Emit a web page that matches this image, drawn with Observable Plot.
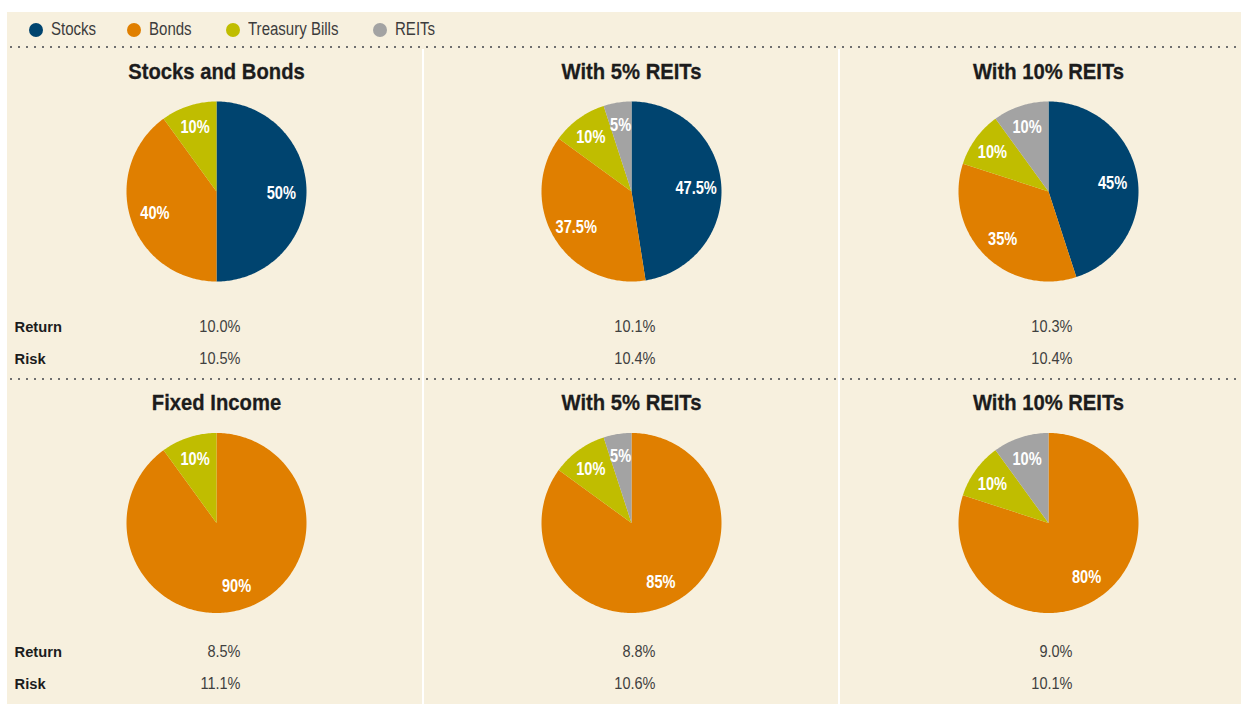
<!DOCTYPE html>
<html><head><meta charset="utf-8">
<script src="https://cdn.jsdelivr.net/npm/d3@7"></script>
<script src="https://cdn.jsdelivr.net/npm/@observablehq/plot@0.6"></script>
<style>
html,body{margin:0;padding:0;background:#fff;overflow:hidden;width:1241px;height:704px;}
#wrap{position:absolute;left:7px;top:12px;width:1234px;height:692px;background:#f7f0de;overflow:hidden;
  font-family:"Liberation Sans",Arial,sans-serif;}
.item{position:absolute;top:0;height:34px;}
.sw{position:absolute;left:-7px;top:10.5px;width:14px;height:14px;border-radius:50%;}
.lt{position:absolute;left:15px;top:6px;font-size:18px;line-height:22px;color:#3c3c3c;white-space:nowrap;
  transform:scaleX(0.835);transform-origin:left center;}
.dots{position:absolute;left:0;width:1234px;height:2px;
  background-image:radial-gradient(circle, #6f6f6f 0.8px, rgba(0,0,0,0) 1.3px);
  background-size:8px 2px;background-repeat:repeat-x;}
.vsep{position:absolute;width:2px;background:#fff;top:37px;bottom:0;}
.panel{position:absolute;}
</style></head><body>
<div id="wrap"></div>
<script>
// ---- data ----
const assets = ["Stocks", "Bonds", "Treasury Bills", "REITs"];
const assetColors = ["#00446f", "#e07f00", "#c0bd00", "#a3a3a3"];
const panelTitles = ["Stocks and Bonds", "With 5% REITs", "With 10% REITs", "Fixed Income", "With 5% REITs", "With 10% REITs"];
const stocksPct = [50, 47.5, 45, 0, 0, 0];
const bondsPct = [40, 37.5, 35, 90, 85, 80];
const billsPct = [10, 10, 10, 10, 10, 10];
const reitsPct = [0, 5, 10, 0, 5, 10];
const returnPct = [10.0, 10.1, 10.3, 8.5, 8.8, 9.0];
const riskPct = [10.5, 10.4, 10.4, 11.1, 10.6, 10.1];
const rowLabels = ["Return", "Risk"];

// ---- layout ----
const R = 90;
const legendX = [29, 127, 226, 373];
const colLeft = [0, 417, 833], colWidth = [415, 414, 401], colCx = [209, 207, 208];
const rowTop = [36, 368], rowHeight = [330, 324];
const rowCy = [143, 142.5], rowTitleBase = [30, 29], rowReturnBase = [283, 276], rowRiskBase = [315, 308];
const FONT = '"Liberation Sans",Arial,sans-serif';
// horizontal compression per text size (to mimic a condensed face)
const SIZE_LABEL = 17.5, SIZE_TITLE = 22, SIZE_VALUE = 17, SIZE_ROW = 15.5;
const squeeze = {[SIZE_LABEL]: 0.835, [SIZE_TITLE]: 0.92, [SIZE_VALUE]: 0.855, [SIZE_ROW]: 0.95};

const wrap = document.getElementById("wrap");

// legend
assets.forEach((a, i) => {
  const it = document.createElement("div"); it.className = "item"; it.style.left = legendX[i] + "px";
  const sw = document.createElement("span"); sw.className = "sw"; sw.style.background = assetColors[i];
  const tx = document.createElement("span"); tx.className = "lt"; tx.textContent = a;
  it.append(sw, tx); wrap.append(it);
});

// dotted rules
[34, 366].forEach(t => { const d = document.createElement("div"); d.className = "dots"; d.style.top = t + "px"; wrap.append(d); });

const series = [stocksPct, bondsPct, billsPct, reitsPct];

function condense(svg) {
  svg.querySelectorAll("g[aria-label='text']").forEach(g => {
    const fs = parseFloat(g.getAttribute("font-size"));
    const s = squeeze[fs] || 1;
    g.querySelectorAll("text").forEach(t => {
      const tx = parseFloat(t.getAttribute("x")) || 0;
      const prev = t.getAttribute("transform") || "";
      t.setAttribute("transform", `${prev} translate(${tx},0) scale(${s},1) translate(${-tx},0)`);
    });
  });
}

for (let p = 0; p < 6; p++) {
  const r = Math.floor(p / 3), c = p % 3;
  const cx = colCx[c], cy = rowCy[r];
  const slices = assets.map((a, k) => ({asset: a, value: series[k][p]})).filter(d => d.value > 0);
  const arcs = d3.pie().sort(null).value(d => d.value)(slices);
  const pts = [];
  arcs.forEach(arc => {
    const a = arc.data.asset;
    pts.push({asset: a, x: 0, y: 0});
    const n = Math.max(2, Math.ceil((arc.endAngle - arc.startAngle) / (Math.PI / 180)));
    for (let k = 0; k <= n; k++) {
      const t = arc.startAngle + (arc.endAngle - arc.startAngle) * k / n;
      pts.push({asset: a, x: Math.sin(t), y: Math.cos(t)});
    }
  });
  const labels = arcs.map(arc => {
    const m = (arc.startAngle + arc.endAngle) / 2;
    const lr = arc.data.value <= 10 ? 0.77 : 0.72;
    return {x: lr * Math.sin(m), y: lr * Math.cos(m), text: `${arc.data.value}%`};
  });
  const marks = [
    Plot.line(pts, {x: "x", y: "y", z: "asset", fill: "asset", stroke: "none"}),
    Plot.text(labels, {x: "x", y: "y", dy: 2, text: "text", fill: "white", fontWeight: "bold", fontSize: SIZE_LABEL}),
    Plot.text([panelTitles[p]], {frameAnchor: "top-left", dx: cx, dy: rowTitleBase[r], lineAnchor: "bottom",
      textAnchor: "middle", fontSize: SIZE_TITLE, fontWeight: "bold", fill: "#1c1c1c", stroke: "#1c1c1c", strokeWidth: 0.3}),
    Plot.text([`${returnPct[p].toFixed(1)}%`], {frameAnchor: "top-left", dx: cx + 24, dy: rowReturnBase[r], lineAnchor: "bottom",
      textAnchor: "end", fontSize: SIZE_VALUE, fill: "#404040"}),
    Plot.text([`${riskPct[p].toFixed(1)}%`], {frameAnchor: "top-left", dx: cx + 24, dy: rowRiskBase[r], lineAnchor: "bottom",
      textAnchor: "end", fontSize: SIZE_VALUE, fill: "#404040"})
  ];
  if (c === 0) {
    marks.push(Plot.text([rowLabels[0]], {frameAnchor: "top-left", dx: 7, dy: rowReturnBase[r], lineAnchor: "bottom",
      textAnchor: "start", fontSize: SIZE_ROW, fontWeight: "bold", fill: "#1c1c1c"}));
    marks.push(Plot.text([rowLabels[1]], {frameAnchor: "top-left", dx: 7, dy: rowRiskBase[r], lineAnchor: "bottom",
      textAnchor: "start", fontSize: SIZE_ROW, fontWeight: "bold", fill: "#1c1c1c"}));
  }
  const plot = Plot.plot({
    width: colWidth[c], height: rowHeight[r], margin: 0,
    x: {domain: [-1, 1], range: [cx - R, cx + R], axis: null},
    y: {domain: [-1, 1], range: [cy + R, cy - R], axis: null},
    color: {domain: assets, range: assetColors},
    style: {background: "transparent", fontFamily: FONT, overflow: "visible"},
    marks
  });
  condense(plot);
  const holder = document.createElement("div");
  holder.className = "panel";
  holder.style.left = colLeft[c] + "px";
  holder.style.top = rowTop[r] + "px";
  holder.style.width = colWidth[c] + "px";
  holder.style.height = rowHeight[r] + "px";
  holder.append(plot);
  wrap.append(holder);
}

// white column separators
[415, 831].forEach(l => { const d = document.createElement("div"); d.className = "vsep"; d.style.left = l + "px"; wrap.append(d); });
</script>
</body></html>
